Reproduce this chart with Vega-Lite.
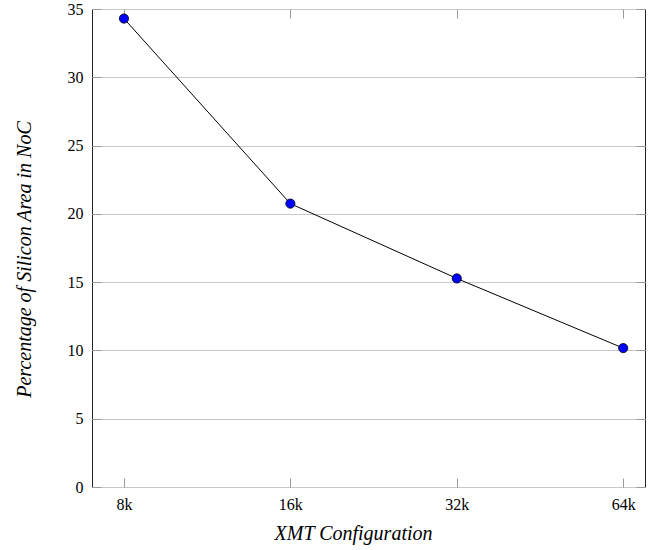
{
  "$schema": "https://vega.github.io/schema/vega-lite/v6.json",
  "width": 553,
  "height": 478,
  "autosize": {"type": "none"},
  "padding": {"left": 92, "top": 9, "right": 10, "bottom": 63},
  "background": "white",
  "config": {
    "view": {"stroke": "#222", "strokeWidth": 1},
    "axis": {
      "labelFont": "Liberation Serif",
      "labelFontSize": 16,
      "labelColor": "#000",
      "titleFont": "Liberation Serif",
      "titleFontStyle": "italic",
      "titleFontWeight": "normal",
      "titleFontSize": 20,
      "titleColor": "#000",
      "domain": false,
      "ticks": true,
      "tickColor": "#999",
      "tickWidth": 1,
      "tickSize": 9,
      "gridColor": "#c8c8c8",
      "gridWidth": 1
    }
  },
  "data": {
    "values": [
      {"idx": 0, "config": "8k", "value": 34.3},
      {"idx": 1, "config": "16k", "value": 20.75},
      {"idx": 2, "config": "32k", "value": 15.27},
      {"idx": 3, "config": "64k", "value": 10.17}
    ]
  },
  "layer": [
    {
      "mark": {"type": "line", "color": "#000", "strokeWidth": 1},
      "encoding": {
        "x": {
          "field": "idx",
          "type": "quantitative",
          "scale": {"domain": [-0.192, 3.131], "nice": false, "zero": false},
          "axis": {
            "orient": "bottom",
            "values": [0, 1, 2, 3],
            "labelExpr": "['8k','16k','32k','64k'][datum.value]",
            "grid": false,
            "ticks": false,
            "labelPadding": 9,
            "title": "XMT Configuration",
            "titleX": 261,
            "titleY": 46,
            "titleBaseline": "middle",
            "titleAnchor": null
          }
        },
        "y": {
          "field": "value",
          "type": "quantitative",
          "scale": {"domain": [0, 35], "nice": false},
          "axis": {
            "orient": "left",
            "values": [0, 5, 10, 15, 20, 25, 30, 35],
            "grid": true,
            "ticks": false,
            "labelPadding": 9,
            "title": "Percentage of Silicon Area in NoC",
            "titleX": -68,
            "titleY": 250,
            "titleBaseline": "middle",
            "titleAngle": 270
          }
        }
      }
    },
    {
      "mark": {"type": "point", "filled": true, "opacity": 0},
      "encoding": {
        "x": {
          "field": "idx",
          "type": "quantitative",
          "axis": {"orient": "bottom", "offset": -9, "ticks": true, "tickSize": 9, "values": [0, 1, 2, 3], "labels": false, "grid": false, "title": null}
        },
        "y": {
          "field": "value",
          "type": "quantitative",
          "axis": {"orient": "left", "offset": -9, "ticks": true, "tickSize": 9, "values": [0, 5, 10, 15, 20, 25, 30, 35], "labels": false, "grid": false, "title": null}
        }
      }
    },
    {
      "mark": {"type": "point", "filled": true, "fill": "#0000ff", "stroke": "#000", "strokeWidth": 0.8, "size": 85, "opacity": 1},
      "encoding": {
        "x": {
          "field": "idx",
          "type": "quantitative",
          "axis": {"orient": "top", "offset": -9, "ticks": true, "tickSize": 9, "values": [0, 1, 2, 3], "labels": false, "grid": false, "title": null}
        },
        "y": {
          "field": "value",
          "type": "quantitative",
          "axis": {"orient": "right", "offset": -9, "ticks": true, "tickSize": 9, "values": [0, 5, 10, 15, 20, 25, 30, 35], "labels": false, "grid": false, "title": null}
        }
      }
    }
  ],
  "resolve": {"axis": {"x": "independent", "y": "independent"}}
}
